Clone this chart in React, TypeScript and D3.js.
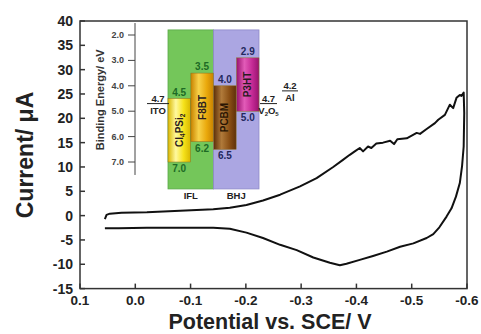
import * as d3 from "d3";

// cyclic voltammogram, scan order: forward (upper) then reverse (lower)
const potential = [
  0.055, 0.052, 0.046, 0.025, -0.021, -0.081, -0.141, -0.171, -0.201, -0.231, -0.262, -0.298,
  -0.328, -0.358, -0.375, -0.388, -0.397, -0.406, -0.412, -0.421, -0.427, -0.436, -0.448, -0.461,
  -0.468, -0.474, -0.491, -0.509, -0.515, -0.527, -0.542, -0.548, -0.56, -0.569, -0.575, -0.581,
  -0.587, -0.59, -0.594,
  -0.595, -0.594, -0.591, -0.587, -0.58, -0.572, -0.563, -0.55, -0.539, -0.527, -0.503, -0.479,
  -0.455, -0.43, -0.406, -0.382, -0.37, -0.352, -0.322, -0.292, -0.262, -0.231, -0.201, -0.171,
  -0.141, -0.081, -0.021, 0.03, 0.055,
];
const current = [
  -0.7, 0.15, 0.4, 0.6, 0.7, 1.0, 1.3, 1.6, 2.2, 3.1, 4.3, 6.0,
  7.7, 10.0, 11.4, 12.5, 13.2, 13.9, 13.2, 14.2, 13.9, 14.8, 15.0, 15.4,
  14.7, 15.7, 15.9, 17.0, 16.8, 17.8, 19.0, 19.7, 20.7, 22.8, 22.1, 24.2,
  24.8, 24.6, 25.3,
  21.1, 14.2, 10.1, 6.7, 3.9, 1.5, -0.2, -2.4, -3.8, -4.6, -5.7, -6.4,
  -7.4, -8.3, -9.1, -9.9, -10.2, -9.7, -8.6, -7.1, -6.0, -4.6, -3.5, -2.7,
  -2.5, -2.5, -2.5, -2.6, -2.6,
];

const xTicks = [0.1, 0.0, -0.1, -0.2, -0.3, -0.4, -0.5, -0.6];
const yTicks = [-15, -10, -5, 0, 5, 10, 15, 20, 25, 30, 35, 40];

// inset energy diagram (eV)
const energyTicks = [2, 3, 4, 5, 6, 7];
const materials = ["Cl4PSi2", "F8BT", "PCBM", "P3HT"];
const lumo = [4.5, 3.5, 4.0, 2.9];
const homo = [7.0, 6.2, 6.5, 5.0];
const electrodes = ["ITO", "V2O5", "Al"];
const workFunction = [4.7, 4.7, 4.2];
const layers = ["IFL", "BHJ"];

const FONT = "'Liberation Sans', Arial, sans-serif";

export default function App() {
  const w = 481;
  const h = 334;
  const left = 80, right = 467, top = 21, bottom = 288.6;

  const x = d3.scaleLinear().domain([0.1, -0.6]).range([left, right]);
  const y = d3.scaleLinear().domain([-15, 40]).range([bottom, top]);

  const pts = potential.map((p, i) => [p, current[i]] as [number, number]);
  const line = d3.line<[number, number]>().x((d) => x(d[0])).y((d) => y(d[1]));

  // inset scales
  const ey = d3.scaleLinear().domain([2, 7]).range([35, 162]);
  const barX = d3.scaleBand().domain(materials).range([168, 259]).paddingInner(0.02);
  const layerX = d3.scaleBand().domain(layers).range([168, 259]);
  const barColors = [
    ["#fff9a0", "#f6e21a", "#d9b800"],
    ["#f7d24a", "#eaa90c", "#c98300"],
    ["#b07a3a", "#8a4f14", "#5e300a"],
    ["#e25bb8", "#c42a95", "#98136f"],
  ];
  const greenTxt = "#1d6a25";
  const navyTxt = "#23285e";

  return (
    <svg width={w} height={h} style={{ position: "absolute", left: 0, top: 0, background: "#fff" }} fontFamily={FONT}>
      <defs>
        {barColors.map((c, i) => (
          <linearGradient key={i} id={`bar${i}`} x1="0" x2="1" y1="0" y2="0">
            <stop offset="0" stopColor={c[2]} />
            <stop offset="0.35" stopColor={c[0]} />
            <stop offset="0.7" stopColor={c[1]} />
            <stop offset="1" stopColor={c[2]} />
          </linearGradient>
        ))}
      </defs>

      {/* inset */}
      <g>
        <rect x={layerX("IFL")} y={ey(1.8)} width={layerX.bandwidth()} height={ey(8.06) - ey(1.8)} fill="#74c65a" stroke="#5aa848" strokeWidth={0.8} />
        <rect x={layerX("BHJ")} y={ey(1.8)} width={layerX.bandwidth()} height={ey(8.06) - ey(1.8)} fill="#aba6e2" stroke="#8e89c8" strokeWidth={0.8} />
        {layers.map((l) => (
          <text key={l} x={(layerX(l) as number) + layerX.bandwidth() / 2} y={ey(8.06) + 10} fontSize={9.5} fontWeight="bold" textAnchor="middle" fill="#222">
            {l}
          </text>
        ))}
        {materials.map((m, i) => {
          const bx = barX(m) as number;
          const bw = barX.bandwidth();
          const cx = bx + bw / 2;
          const txtColor = i < 2 ? greenTxt : navyTxt;
          const cy = (ey(lumo[i]) + ey(homo[i])) / 2;
          return (
            <g key={m}>
              <rect x={bx} y={ey(lumo[i])} width={bw} height={ey(homo[i]) - ey(lumo[i])} fill={`url(#bar${i})`} stroke="#8a7020" strokeWidth={0.5} />
              <text x={cx} y={ey(lumo[i]) - 3} fontSize={10} fontWeight="bold" textAnchor="middle" fill={txtColor}>
                {lumo[i].toFixed(1)}
              </text>
              <text x={cx} y={ey(homo[i]) + 10} fontSize={10} fontWeight="bold" textAnchor="middle" fill={txtColor}>
                {homo[i].toFixed(1)}
              </text>
              <text transform={`translate(${cx + 3.5},${cy}) rotate(-90)`} fontSize={10} fontWeight="bold" textAnchor="middle" fill={i === 2 ? "#2a1503" : "#2a1a20"}>
                {m === "Cl4PSi2" ? (
                  <>
                    Cl<tspan fontSize={6.5} dy={2}>4</tspan>
                    <tspan dy={-2}>PSi</tspan>
                    <tspan fontSize={6.5} dy={2}>2</tspan>
                  </>
                ) : (
                  m
                )}
              </text>
            </g>
          );
        })}
        {electrodes.map((e, i) => {
          const x0 = [147, 260, 282][i];
          const x1 = [169, 277, 298][i];
          const ly = ey(workFunction[i]);
          const cx = (x0 + x1) / 2;
          return (
            <g key={e}>
              <line x1={x0} x2={x1} y1={ly} y2={ly} stroke="#222" strokeWidth={1} />
              <text x={cx} y={ly - 2} fontSize={9.5} fontWeight="bold" textAnchor="middle" fill="#222">
                {workFunction[i].toFixed(1)}
              </text>
              <text x={cx} y={ly + 10} fontSize={9.5} fontWeight="bold" textAnchor="middle" fill="#222">
                {e === "V2O5" ? (
                  <>
                    V<tspan fontSize={6} dy={2}>2</tspan>
                    <tspan dy={-2}>O</tspan>
                    <tspan fontSize={6} dy={2}>5</tspan>
                  </>
                ) : (
                  e
                )}
              </text>
            </g>
          );
        })}
        {/* inset energy axis */}
        <line x1={135} x2={135} y1={ey(1.53)} y2={ey(7.51)} stroke="#444" strokeWidth={1} />
        {energyTicks.map((t) => (
          <g key={t}>
            <line x1={128} x2={135} y1={ey(t)} y2={ey(t)} stroke="#444" strokeWidth={1} />
            <text x={124} y={ey(t) + 3} fontSize={9} fontWeight="bold" textAnchor="end" fill="#444">
              {t.toFixed(1)}
            </text>
          </g>
        ))}
        <text transform={`translate(104,${ey(4.55)}) rotate(-90)`} fontSize={11} fontWeight="bold" textAnchor="middle" fill="#333">
          Binding Energy/ eV
        </text>
      </g>

      {/* CV curve */}
      <path d={line(pts) ?? ""} fill="none" stroke="#111" strokeWidth={2} strokeLinejoin="round" />

      {/* frame and ticks */}
      <rect x={left} y={top} width={right - left} height={bottom - top} fill="none" stroke="#333" strokeWidth={1.5} />
      {yTicks.map((t) => (
        <g key={t}>
          <line x1={left} x2={left + 5} y1={y(t)} y2={y(t)} stroke="#333" strokeWidth={1.5} />
          <text x={73} y={y(t) + 5} fontSize={14} fontWeight="bold" textAnchor="end" fill="#222">
            {t}
          </text>
        </g>
      ))}
      {xTicks.map((t) => (
        <g key={t}>
          <line x1={x(t)} x2={x(t)} y1={bottom} y2={bottom - 5} stroke="#333" strokeWidth={1.5} />
          <text x={x(t)} y={305} fontSize={13.5} fontWeight="bold" textAnchor="middle" fill="#222">
            {t.toFixed(1)}
          </text>
        </g>
      ))}
      <text transform="translate(33,155) rotate(-90)" fontSize={23} fontWeight="bold" textAnchor="middle" fill="#222">
        Current/ μA
      </text>
      <text x={270} y={329} fontSize={21.5} fontWeight="bold" textAnchor="middle" fill="#222">
        Potential vs. SCE/ V
      </text>
    </svg>
  );
}
